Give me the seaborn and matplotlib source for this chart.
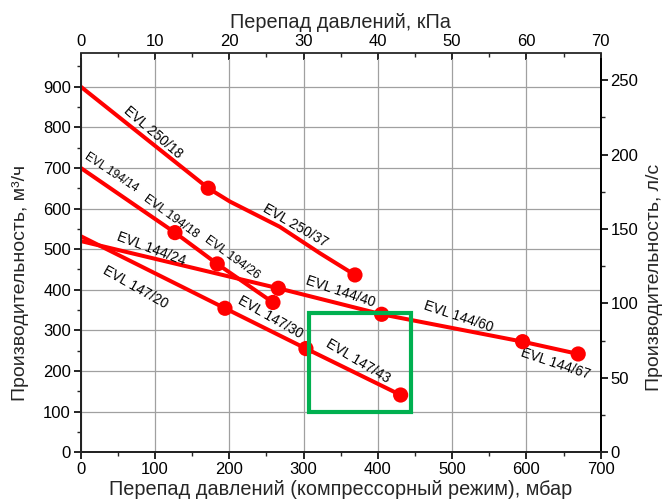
import numpy as np
import pandas as pd
import matplotlib
matplotlib.use('Agg')
import matplotlib.pyplot as plt
import seaborn as sns
from matplotlib.ticker import MultipleLocator, FixedLocator
from matplotlib.patches import Rectangle

# --- data (mbar, m3/h) ---
evl250_x = [0, 171.7, 201, 268, 322, 369.2]
evl250_y = [900, 650, 617, 555, 490, 436.5]
evl194_x = [0, 126.9, 183.8, 258.8]
evl194_y = [700, 540.7, 463.6, 368.8]
evl144_x = [0, 266, 405.1, 594.9, 669.7]
evl144_y = [520, 403.7, 339.7, 272.3, 242]
evl147_x = [0, 194.2, 303.2, 430.7]
evl147_y = [532, 354.5, 255.3, 141]

dots_x = [171.7, 369.2, 126.9, 183.8, 258.8, 266, 405.1, 594.9, 669.7, 194.2, 303.2, 430.7]
dots_y = [650, 436.5, 540.7, 463.6, 368.8, 403.7, 339.7, 272.3, 242, 354.5, 255.3, 141]

# curve labels: text, x, y, angle, size
label_text = ['EVL 250/18', 'EVL 250/37', 'EVL 194/14', 'EVL 194/18', 'EVL 194/26',
              'EVL 144/24', 'EVL 147/20', 'EVL 147/30', 'EVL 144/40', 'EVL 144/60',
              'EVL 144/67', 'EVL 147/43']
label_x = [97, 289, 41, 122, 204, 95, 73, 255, 350, 508, 639, 373]
label_y = [788, 557, 688, 579, 478, 500, 407, 333, 395, 333, 218, 224]
label_rot = [-40.5, -30, -33.5, -36, -36, -20.5, -29.5, -29.5, -18.5, -18.5, -18.5, -31]
label_size = [10, 10, 8.5, 9, 9, 10, 10, 10, 10, 10, 10, 10]

# top axis ticks, kPa
kpa_major = [0, 10, 20, 30, 40, 50, 60, 70]
kpa_minor = [5, 15, 25, 35, 45, 55, 65]

# highlight box
box_x = [307.7, 444.1]
box_y = [100, 343.7]

curves = pd.DataFrame({
    'x': evl250_x + evl194_x + evl144_x + evl147_x,
    'y': evl250_y + evl194_y + evl144_y + evl147_y,
    'model': ['250'] * len(evl250_x) + ['194'] * len(evl194_x)
             + ['144'] * len(evl144_x) + ['147'] * len(evl147_x),
})

sns.set_theme(style='ticks')
plt.rcParams['font.family'] = ['Liberation Sans', 'DejaVu Sans']

fig = plt.figure(figsize=(6.65, 5.04), dpi=100)
ax = fig.add_axes([80.7 / 665, (504 - 452.3) / 504, 520 / 665, (452.3 - 59) / 504])

ax.set_xlim(0, 700)
ax.set_ylim(0, 968)
ax.xaxis.set_major_locator(MultipleLocator(100))
ax.xaxis.set_minor_locator(MultipleLocator(50))
ax.yaxis.set_major_locator(MultipleLocator(100))
ax.yaxis.set_minor_locator(MultipleLocator(50))
ax.grid(True, which='major', color='#a0a0a0', linewidth=0.9)
ax.set_axisbelow(True)

for m in ['250', '194', '144', '147']:
    sub = curves[curves['model'] == m]
    sns.lineplot(data=sub, x='x', y='y', sort=False, color='#ff0000',
                 linewidth=2.9, ax=ax, legend=False)
sns.scatterplot(x=dots_x, y=dots_y, color='#ff0000', s=120, edgecolor='none',
                ax=ax, zorder=5, legend=False)

for t, x, y, r, s in zip(label_text, label_x, label_y, label_rot, label_size):
    ax.text(x, y, t, rotation=r, fontsize=s, ha='center', va='center',
            rotation_mode='anchor', color='black')

ax.add_patch(Rectangle((box_x[0], box_y[0]), box_x[1] - box_x[0], box_y[1] - box_y[0],
                       fill=False, edgecolor='#00b050', linewidth=3, zorder=6))

for sp in ['left', 'bottom', 'right']:
    ax.spines[sp].set_linewidth(1.3)
    ax.spines[sp].set_color('black')
ax.spines['top'].set_visible(False)
ax.tick_params(which='major', direction='out', length=5, width=1.2, labelsize=12, colors='black', pad=2)
ax.tick_params(which='minor', direction='out', length=3, width=1.0)
ax.set_xlabel('Перепад давлений (компрессорный режим), мбар', fontsize=14.3, labelpad=2)
ax.set_ylabel('Производительность, м³/ч', fontsize=14)
ax.yaxis.set_label_coords(-0.099, 0.43)

# right axis, l/s
ax2 = ax.twinx()
ax2.set_ylim(0, 264.2)
ax2.yaxis.set_major_locator(MultipleLocator(50))
ax2.yaxis.set_minor_locator(MultipleLocator(25))
ax2.spines['top'].set_visible(False)
ax2.spines['right'].set_linewidth(1.3)
ax2.spines['right'].set_color('black')
ax2.tick_params(which='major', direction='out', length=5, width=1.2, labelsize=12, colors='black', pad=2)
ax2.tick_params(which='minor', direction='out', length=3, width=1.0)
ax2.set_ylabel('Производительность, л/с', fontsize=14)
ax2.yaxis.set_label_coords(1.087, 0.445)
ax2.grid(False)

# top axis, kPa
top = ax.secondary_xaxis('top', functions=(lambda v: v / 10, lambda v: v * 10))
top.spines['top'].set_position(('outward', 4.3))
top.spines['top'].set_linewidth(1.3)
top.xaxis.set_major_locator(FixedLocator(kpa_major))
top.xaxis.set_minor_locator(FixedLocator(kpa_minor))
top.tick_params(which='major', direction='in', length=5, width=1.2, labelsize=12, colors='black', pad=3)
top.tick_params(which='minor', direction='in', length=3, width=1.0)
top.set_xlabel('Перепад давлений, кПа', fontsize=14.3, labelpad=4)

fig.savefig('out.png', dpi=100, facecolor='white')
